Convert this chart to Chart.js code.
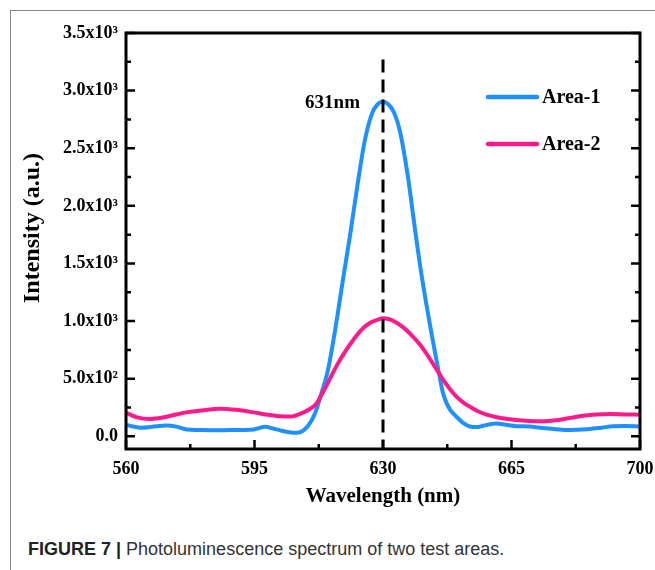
<!DOCTYPE html>
<html><head><meta charset="utf-8">
<script src="https://cdn.jsdelivr.net/npm/chart.js@4.4.0/dist/chart.umd.min.js"></script>
<style>
html,body{margin:0;padding:0;background:#fff;width:655px;height:570px;overflow:hidden;}
#frame{position:absolute;left:10px;top:10px;width:700px;height:600px;border-left:1px solid #8a8a8a;border-top:1px solid #8a8a8a;}
#wrap{position:absolute;left:0;top:0;width:655px;height:520px;}
#caption{position:absolute;left:28px;top:539px;font-family:"Liberation Sans",Arial,sans-serif;font-size:18px;color:#333;white-space:nowrap;}
#caption b{color:#222;}
</style></head>
<body>
<div id="frame"></div>
<div id="wrap"><canvas id="c" width="655" height="520"></canvas></div>
<div id="caption"><b>FIGURE 7 |</b> Photoluminescence spectrum of two test areas.</div>
<script>
// ---- data ----
const seriesNames = ['Area-1', 'Area-2'];
const area1Wavelength = [560,562,564,567,571,574,576.5,580,585,590,594.7,598,600,602,604,606.5,608,609,610,611,612,613,615,617,619,621,623,625,627,628.5,630,631.5,633,634.6,636.8,638.7,640.5,643,645,646.3,647.3,648.3,650,651.9,653.7,655.5,657.3,660.9,663.5,666.4,670,672.7,676,680,683,686.3,689.5,692.7,696,700];
const area1Intensity  = [100,85,75,82,93,82,60,55,52,55,60,82,68,52,38,30,45,70,110,165,245,350,575,930,1340,1740,2170,2560,2800,2880,2903,2880,2810,2650,2250,1800,1400,930,590,380,290,230,170,115,85,80,92,112,100,88,85,75,65,55,58,64,75,87,90,85];
const area2Wavelength = [560,563,566.5,570,573,576.5,580,585.6,590,594.7,598,602,605,607.4,610,611.9,613,615,617.5,620,622,624,626.5,628.5,630,631.5,633,635.5,638,640,642,644,646,648,650,652,654,656,658,661,664.6,668,673.6,677.2,681,684.5,688,692,696,700];
const area2Intensity  = [205,165,150,163,185,208,222,240,230,208,190,175,172,195,235,285,345,465,620,750,840,920,985,1012,1025,1018,998,945,870,800,710,610,510,420,345,290,250,215,190,165,148,138,130,140,160,178,190,194,190,188];
const xTickValues = [560,595,630,665,700];
const xTickLabels = ['560','595','630','665','700'];
const xMinorValues = [577.5,612.5,647.5,682.5];
const yTickValues = [0,500,1000,1500,2000,2500,3000,3500];
const yTickLabels = ['0.0','5.0x10\u00B2','1.0x10\u00B3','1.5x10\u00B3','2.0x10\u00B3','2.5x10\u00B3','3.0x10\u00B3','3.5x10\u00B3'];
const yMinorValues = [250,750,1250,1750,2250,2750,3250];
const markerWavelength = 630;
const markerTop = 3270;
const markerLabel = '631nm';
const xTitle = 'Wavelength (nm)';
const yTitle = 'Intensity (a.u.)';
const colors = ['#1E90FF', '#FF1A8C'];

const SERIF = '"Liberation Serif","Times New Roman",serif';
function pts(xs, ys){ return xs.map((x,i)=>({x:x, y:ys[i]})); }

const decor = {
  id:'decor',
  afterDatasetsDraw(chart){
    const {ctx, chartArea:a, scales:{x,y}} = chart;
    ctx.save();
    const px = x.getPixelForValue(markerWavelength);
    ctx.strokeStyle = '#000';
    ctx.lineWidth = 3;
    ctx.setLineDash([13,7]);
    ctx.beginPath();
    ctx.moveTo(px, y.getPixelForValue(markerTop));
    ctx.lineTo(px, a.bottom);
    ctx.stroke();
    ctx.setLineDash([]);
    ctx.lineWidth = 2.5;
    ctx.beginPath();
    yTickValues.forEach(v=>{ const py=y.getPixelForValue(v); ctx.moveTo(a.left,py); ctx.lineTo(a.left+9,py); ctx.moveTo(a.right,py); ctx.lineTo(a.right-9,py); });
    yMinorValues.forEach(v=>{ const py=y.getPixelForValue(v); ctx.moveTo(a.left,py); ctx.lineTo(a.left+5,py); ctx.moveTo(a.right,py); ctx.lineTo(a.right-5,py); });
    xTickValues.forEach(v=>{ const p=x.getPixelForValue(v); ctx.moveTo(p,a.bottom); ctx.lineTo(p,a.bottom-9); });
    xMinorValues.forEach(v=>{ const p=x.getPixelForValue(v); ctx.moveTo(p,a.bottom); ctx.lineTo(p,a.bottom-5); });
    ctx.stroke();
    ctx.lineWidth = 3;
    ctx.strokeRect(a.left, a.top, a.right-a.left, a.bottom-a.top);
    ctx.restore();
  },
  afterDraw(chart){
    const {ctx, chartArea:a, scales:{x,y}} = chart;
    ctx.save();
    ctx.fillStyle = '#000';
    ctx.font = 'bold 19px ' + SERIF;
    ctx.textAlign = 'right'; ctx.textBaseline = 'middle';
    ctx.fillText(markerLabel, x.getPixelForValue(markerWavelength) - 23, a.top + 70);
    ctx.font = 'bold 21px ' + SERIF;
    ctx.textAlign = 'center';
    ctx.fillText(xTitle, (a.left+a.right)/2, 497);
    ctx.save();
    ctx.translate(33, 228);
    ctx.rotate(-Math.PI/2);
    ctx.font = 'bold 24px ' + SERIF;
    ctx.fillText(yTitle, 0, 0);
    ctx.restore();
    chart.data.datasets.forEach((ds,i)=>{
      const ly = a.top + 64 + i*47;
      ctx.strokeStyle = ds.borderColor;
      ctx.lineWidth = 4.5; ctx.lineCap = 'round';
      ctx.beginPath(); ctx.moveTo(a.right-152, ly); ctx.lineTo(a.right-103, ly); ctx.stroke();
      ctx.font = 'bold 20px ' + SERIF;
      ctx.textAlign = 'left'; ctx.fillStyle = '#000';
      ctx.fillText(ds.label, a.right-98, ly+1);
    });
    ctx.restore();
  }
};

new Chart(document.getElementById('c'), {
  type:'line',
  data:{ datasets:[
    {label:seriesNames[0], data:pts(area1Wavelength, area1Intensity), borderColor:colors[0], backgroundColor:colors[0], borderWidth:4, pointRadius:0, cubicInterpolationMode:'monotone', fill:false, order:2},
    {label:seriesNames[1], data:pts(area2Wavelength, area2Intensity), borderColor:colors[1], backgroundColor:colors[1], borderWidth:4, pointRadius:0, cubicInterpolationMode:'monotone', fill:false, order:1}
  ]},
  options:{
    responsive:false, animation:false, devicePixelRatio:1,
    layout:{padding:{left:0, top:33, right:15, bottom:0}},
    plugins:{legend:{display:false}, tooltip:{enabled:false}},
    scales:{
      x:{ type:'linear', min:560, max:700,
        grid:{display:false, drawTicks:false}, border:{display:false},
        afterBuildTicks(s){ s.ticks = xTickValues.map(v=>({value:v})); },
        afterFit(s){ s.height = 71; s.paddingLeft = 0; s.paddingRight = 0; },
        ticks:{ padding:10, color:'#000', font:{family:SERIF, size:18, weight:'bold'}, maxRotation:0,
          callback:(v)=>xTickLabels[xTickValues.indexOf(v)] }
      },
      y:{ type:'linear', min:-110, max:3500,
        grid:{display:false, drawTicks:false}, border:{display:false},
        afterBuildTicks(s){ s.ticks = yTickValues.map(v=>({value:v})); },
        afterFit(s){ s.width = 126; s.paddingTop = 0; s.paddingBottom = 0; },
        ticks:{ padding:8, color:'#000', font:{family:SERIF, size:18, weight:'bold'},
          callback:(v)=>yTickLabels[yTickValues.indexOf(v)] }
      }
    }
  },
  plugins:[decor]
});
</script>
</body></html>
